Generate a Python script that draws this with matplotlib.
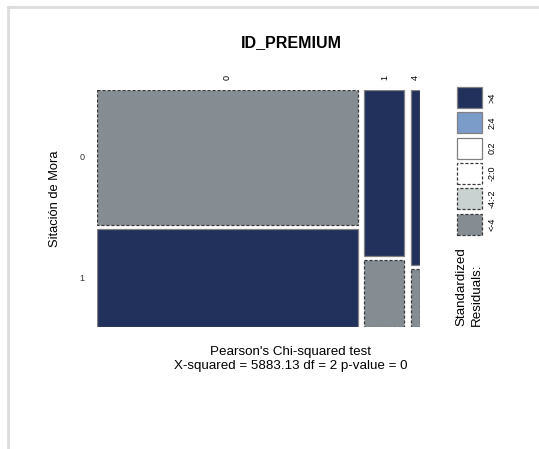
import numpy as np
import matplotlib
matplotlib.use("Agg")
import matplotlib.pyplot as plt
from matplotlib.patches import Rectangle
from matplotlib.lines import Line2D

plt.rcParams['font.family'] = ['Liberation Sans', 'DejaVu Sans']

# Contingency table: ID_PREMIUM (columns) x Sitación de Mora (rows)
premium_levels = ["0", "1", "4"]
mora_levels = ["0", "1"]
counts_mora0 = [270000, 51100, 12100]
counts_mora1 = [196000, 20700, 4000]

title = "ID_PREMIUM"
test_lines = ["Pearson's Chi-squared test",
              "X-squared = 5883.13 df = 2 p-value = 0"]
legend_labels = [">4", "2:4", "0:2", "-2:0", "-4:-2", "<-4"]
legend_colors = ["#22315c", "#7b9bc9", "#ffffff", "#ffffff", "#c9d1d1", "#858d92"]
legend_dashed = [False, False, False, True, True, True]

W, H = 539, 449
fig = plt.figure(figsize=(W / 100, H / 100), dpi=100)


def fx(px):
    return px / W


def fy(py):
    return 1 - py / H


# frame lines along the top and left edges
fig.add_artist(Line2D([fx(8), 1], [fy(7), fy(7)], color="#dcdcdc", lw=2))
fig.add_artist(Line2D([fx(8), fx(8)], [fy(7), 0], color="#dcdcdc", lw=2))

table = np.array([counts_mora0, counts_mora1], dtype=float)
total = table.sum()
col_tot = table.sum(axis=0)
row_tot = table.sum(axis=1)
expected = np.outer(row_tot, col_tot) / total
resid = (table - expected) / np.sqrt(expected)


def shade(r):
    bins = [4, 2, 0, -2, -4]
    for i, b in enumerate(bins):
        if r > b:
            return i
    return 5


# mosaic axes
x0, x1, y0, y1 = 97, 420, 90, 327
ax = fig.add_axes([fx(x0), fy(y1), fx(x1) - fx(x0), fy(y0) - fy(y1)])
gx = 6.5 / 310
gy = 4 / 233
ncol = len(premium_levels)
ax.set_xlim(0, 1 + gx * (ncol - 1))
ax.set_ylim(1 + gy, 0)
ax.axis("off")

col_w = col_tot / total
xs = 0.0
col_centers = []
row_centers_first = []
for j in range(ncol):
    w = col_w[j]
    props = table[:, j] / col_tot[j]
    ys = 0.0
    for i in range(len(mora_levels)):
        h = props[i]
        k = shade(resid[i, j])
        dashed = legend_dashed[k]
        ax.add_patch(Rectangle((xs, ys), w, h, facecolor=legend_colors[k],
                               edgecolor="#3a3a3a" if dashed else "#808080",
                               lw=0.9, linestyle=(0, (2.5, 1.5)) if dashed else "-"))
        if j == 0:
            row_centers_first.append(ys + h / 2)
        ys += h + gy
    col_centers.append(xs + w / 2)
    xs += w + gx

# column labels on top, rotated
for lab, c in zip(premium_levels, col_centers):
    ax.text(c, -0.045, lab, rotation=90, ha="center", va="bottom", fontsize=6.5,
            clip_on=False)
# row labels on the left
for lab, c in zip(mora_levels, row_centers_first):
    ax.text(-0.048, c, lab, ha="center", va="center", fontsize=6.5, clip_on=False,
            color="#333333")

fig.text(fx(55), fy(199), "Sitación de Mora", rotation=90, ha="center", va="center",
         fontsize=9.3)
fig.text(fx(291), fy(43), title, ha="center", va="center", fontsize=11.5,
         fontweight="bold")
fig.text(fx(291), fy(352), test_lines[0], ha="center", va="center", fontsize=9.6)
fig.text(fx(291), fy(366), test_lines[1], ha="center", va="center", fontsize=9.6)

# residual legend
lx0, lx1 = 457, 482
ltop, lh, lpitch = 87, 21, 25.3
for k, (lab, col, dsh) in enumerate(zip(legend_labels, legend_colors, legend_dashed)):
    top = ltop + k * lpitch
    fig.add_artist(Rectangle((fx(lx0), fy(top + lh)), fx(lx1) - fx(lx0), fy(top) - fy(top + lh),
                             facecolor=col, edgecolor="#3a3a3a" if dsh else "#808080",
                             lw=0.9, linestyle=(0, (2.5, 1.5)) if dsh else "-",
                             transform=fig.transFigure))
    fig.text(fx(492), fy(top + lh / 2), lab, rotation=90, ha="center", va="center",
             fontsize=6.5)

fig.text(fx(461), fy(326), "Standardized", rotation=90, ha="center", va="bottom",
         fontsize=9.6)
fig.text(fx(477), fy(326), "Residuals:", rotation=90, ha="center", va="bottom",
         fontsize=9.6)

fig.savefig("out.png", dpi=100, facecolor="white")
